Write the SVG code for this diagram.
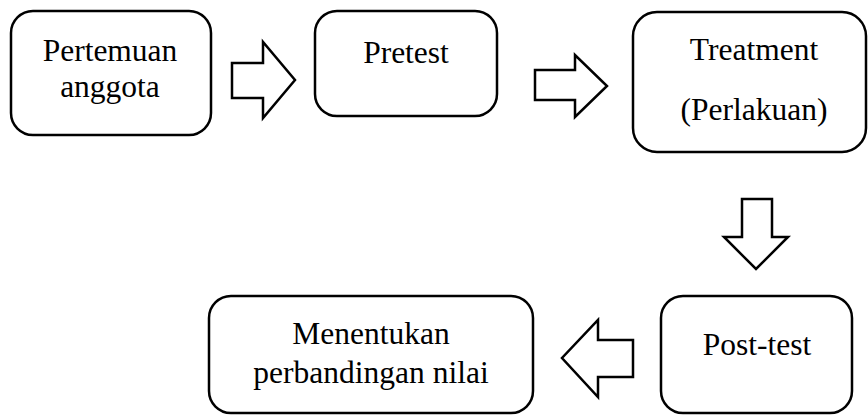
<svg xmlns="http://www.w3.org/2000/svg" width="868" height="415" viewBox="0 0 868 415">
<style>
.box{fill:#fff;stroke:#000;stroke-width:2.5}
.arr{fill:#fff;stroke:#000;stroke-width:2.5;stroke-linejoin:miter}
.t{font-family:'Liberation Serif','DejaVu Serif',serif;font-size:31.5px;fill:#000;text-anchor:middle}
</style>
<rect width="868" height="415" fill="#fff"/>
<g id="connectors">
<polygon class="arr" points="232,63 263,63 263,42 295,80 263,118 263,98 232,98"/>
<polygon class="arr" points="535,70 575,70 575,55 607,86 575,117 575,100 535,100"/>
<polygon class="arr" points="742,199 772,199 772,237 788,237 756,269 724,237 742,237"/>
<polygon class="arr" points="633,340 598,340 598,320 562,358 598,397 598,377 633,377"/>
</g>
<g id="node1">
<rect class="box" x="11" y="11" width="200" height="124" rx="22"/>
<text class="t" x="110" y="61">Pertemuan</text>
<text class="t" x="110" y="97">anggota</text>
</g>
<g id="node2">
<rect class="box" x="315" y="11" width="182" height="105" rx="22"/>
<text class="t" x="406" y="63">Pretest</text>
</g>
<g id="node3">
<rect class="box" x="633" y="12" width="233" height="140" rx="24"/>
<text class="t" x="754" y="60">Treatment</text>
<text class="t" x="754" y="120">(Perlakuan)</text>
</g>
<g id="node4">
<rect class="box" x="661" y="296" width="191" height="117" rx="22"/>
<text class="t" x="757" y="355">Post-test</text>
</g>
<g id="node5">
<rect class="box" x="209" y="296" width="324" height="117" rx="22"/>
<text class="t" x="371" y="344">Menentukan</text>
<text class="t" x="371" y="383">perbandingan nilai</text>
</g>
</svg>
